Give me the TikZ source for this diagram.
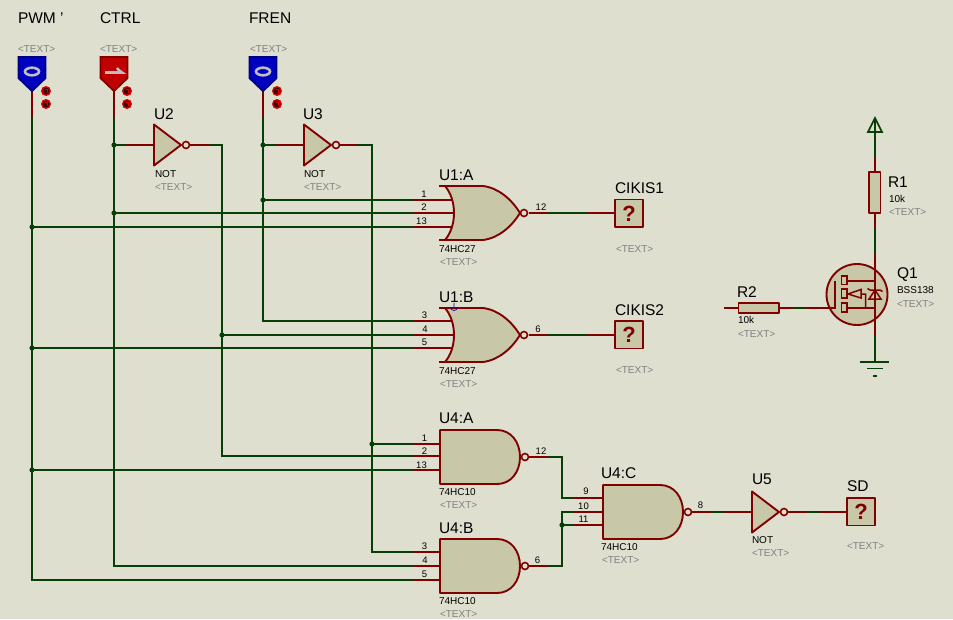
\documentclass[tikz,border=0pt]{standalone}
\usepackage{fontspec}
\setmainfont{Liberation Sans}
\definecolor{bgc}{HTML}{DFDFD0}
\definecolor{bodyc}{HTML}{C8C8A8}
\definecolor{redw}{HTML}{800000}
\definecolor{greenw}{HTML}{064006}
\definecolor{grayt}{HTML}{808080}
\definecolor{pblue}{HTML}{0000C0}
\definecolor{pbluedark}{HTML}{000080}
\definecolor{pred}{HTML}{C00000}
\definecolor{preddark}{HTML}{800000}
\tikzset{
  wire/.style={draw=greenw,line width=1.7pt},
  stub/.style={draw=redw,line width=1.7pt},
  body/.style={draw=redw,fill=bodyc,line width=1.9pt,line join=round},
  dot/.style={circle,fill=greenw,draw=none,minimum size=5.2pt,inner sep=0pt},
  bubble/.style={draw=redw,fill=bgc,line width=1.6pt},
  txt/.style={anchor=base west,inner sep=0pt,outer sep=0pt},
  big/.style={txt,font=\fontsize{15.5}{16}\selectfont,text=black},
  small/.style={txt,font=\fontsize{10}{10}\selectfont,text=black},
  ghost/.style={txt,font=\fontsize{10}{10}\selectfont,text=grayt},
  pin/.style={anchor=base,inner sep=0pt,outer sep=0pt,font=\fontsize{9.5}{10}\selectfont,text=black},
  notgate/.pic={
    \draw[body] (0,-20.5) -- (27,0) -- (0,20.5) -- cycle;
    \draw[bubble] (32,0) circle (3.5);
  },
  norgate/.pic={
    \draw[body] (6,0) -- (44,0) .. controls (60,2) and (73,14) .. (81,27)
      .. controls (73,40) and (60,52) .. (44,54) -- (6,54)
      .. controls (12,47) and (15,37) .. (15,27) .. controls (15,17) and (12,7) .. (6,0) -- cycle;
    \draw[stub] (0,0) -- (6,0) (0,54) -- (6,54);
    \draw[bubble] (85,27) circle (3.5);
  },
  nandgate/.pic={
    \draw[body] (0,0) -- (57,0) .. controls (71,0) and (80,12) .. (80,27)
      .. controls (80,42) and (71,54) .. (57,54) -- (0,54) -- cycle;
    \draw[bubble] (85,27) circle (3.5);
  },
  qbox/.pic={
    \draw[body] (0,0) rectangle (28,27.5);
    \node[inner sep=0pt,font=\bfseries\fontsize{22}{22}\selectfont,text=redw] at (14,14) {?};
  },
  state/.pic={
    \fill[red!85!black] (0,0) circle (5);
    \fill[black!75!red] (0,0) circle (3.4);
    \draw[red!85!black,line width=0.7pt] (-1.5,-1.2) -- (1.5,-1.2) -- (1.5,1.5);
  },
  probezero/.pic={
    \draw[fill=pblue,draw=pbluedark,line width=1.9pt,line join=miter] (-13.5,-34) -- (13.5,-34) -- (13.5,-13) -- (0,0) -- (-13.5,-13) -- cycle;
    \draw[draw=black!25,line width=2.6pt] (0,-19.5) ellipse (7 and 3.8);
  },
  probeone/.pic={
    \draw[fill=pred,draw=preddark,line width=1.9pt,line join=miter] (-13.5,-34) -- (13.5,-34) -- (13.5,-13) -- (0,0) -- (-13.5,-13) -- cycle;
    \draw[draw=black!25,line width=2.6pt] (-9,-18.5) -- (8,-18.5) .. controls (7,-19.5) and (5,-20) .. (3,-23);
  }
}
\begin{document}
\begin{tikzpicture}[x=1pt,y=-1pt]
\useasboundingbox (0,0) rectangle (953,619);
\fill[bgc] (0,0) rectangle (953,619);

% named wire points
\coordinate (pwmP) at (32,91);  \coordinate (ctrlP) at (114,91); \coordinate (frenP) at (263,91);
\coordinate (pwmT) at (32,118); \coordinate (ctrlT) at (114,118); \coordinate (frenT) at (263,118);
\coordinate (pwmB) at (32,580); \coordinate (ctrlB) at (114,566); \coordinate (frenB) at (263,321);
\coordinate (j1) at (32,227); \coordinate (j2) at (32,348); \coordinate (j3) at (32,470);
\coordinate (j4) at (114,145); \coordinate (j5) at (114,213);
\coordinate (j6) at (263,145); \coordinate (j7) at (263,200);
\coordinate (u2a) at (126,145); \coordinate (u2i) at (154,145);
\coordinate (u3a) at (276,145); \coordinate (u3i) at (304,145);
\coordinate (u2o) at (190,145); \coordinate (u2g) at (209,145); \coordinate (u2c) at (222,145); \coordinate (u2d) at (222,456); \coordinate (j8) at (222,335);
\coordinate (u3o) at (339,145); \coordinate (u3g) at (358,145); \coordinate (u3c) at (372,145); \coordinate (u3d) at (372,552); \coordinate (j9) at (372,444);
% gate input stubs start
\foreach \n/\y in {a1/200,a2/213,a3/227,b1/321,b2/335,b3/348,c1/444,c2/456,c3/470,d1/552,d2/566,d3/580}{
  \coordinate (s\n) at (413,\y);
  \coordinate (e\n) at (456,\y);
}

% green wires
\draw[wire] (pwmT) -- (pwmB) -- (sd3);
\draw[wire] (ctrlT) -- (ctrlB) -- (sd2);
\draw[wire] (frenT) -- (frenB) -- (sb1);
\draw[wire] (j1) -- (sa3);
\draw[wire] (j2) -- (sb3);
\draw[wire] (j3) -- (sc3);
\draw[wire] (j4) -- (u2a);
\draw[wire] (j5) -- (sa2);
\draw[wire] (j6) -- (u3a);
\draw[wire] (j7) -- (sa1);
\draw[wire] (u2g) -- (u2c) -- (u2d) -- (sc2);
\draw[wire] (j8) -- (sb2);
\draw[wire] (u3g) -- (u3c) -- (u3d) -- (sd1);
\draw[wire] (j9) -- (sc1);

% right part wire points
\coordinate (ao) at (529,213); \coordinate (ag1) at (548,213); \coordinate (ag2) at (588,213); \coordinate (ab) at (615,213);
\coordinate (bo) at (529,335); \coordinate (bg1) at (548,335); \coordinate (bg2) at (588,335); \coordinate (bb) at (615,335);
\coordinate (co) at (529,457); \coordinate (cg) at (548,457); \coordinate (cc) at (562,457); \coordinate (cd) at (562,498); \coordinate (cs) at (574,498); \coordinate (ce) at (603,498);
\coordinate (do) at (529,566); \coordinate (dg) at (548,566); \coordinate (dc) at (562,566); \coordinate (du) at (562,512); \coordinate (ds) at (574,512); \coordinate (de) at (603,512);
\coordinate (j10) at (562,525); \coordinate (fs) at (574,525); \coordinate (fe) at (603,525);
\coordinate (eo) at (692,512); \coordinate (eg1) at (712,512); \coordinate (eg2) at (724,512); \coordinate (ei) at (752,512);
\coordinate (vo) at (787,512); \coordinate (vg1) at (807,512); \coordinate (vg2) at (819,512); \coordinate (vb) at (847,512);

\draw[wire] (cg) -- (cc) -- (cd) -- (cs);
\draw[wire] (dg) -- (dc) -- (du) -- (ds);
\draw[wire] (j10) -- (fs);
\draw[wire] (ag1) -- (ag2);
\draw[wire] (bg1) -- (bg2);
\draw[wire] (eg1) -- (eg2);
\draw[wire] (vg1) -- (vg2);

% red stubs
\draw[stub] (pwmP) -- (pwmT);
\draw[stub] (ctrlP) -- (ctrlT);
\draw[stub] (frenP) -- (frenT);
\draw[stub] (u2a) -- (u2i);
\draw[stub] (u3a) -- (u3i);
\draw[stub] (u2o) -- (u2g);
\draw[stub] (u3o) -- (u3g);
\foreach \n in {a1,a2,a3,b1,b2,b3,c1,c2,c3,d1,d2,d3}{\draw[stub] (s\n) -- (e\n);}
\draw[stub] (ao) -- (ag1) (ag2) -- (ab);
\draw[stub] (bo) -- (bg1) (bg2) -- (bb);
\draw[stub] (co) -- (cg);
\draw[stub] (do) -- (dg);
\draw[stub] (cs) -- (ce);
\draw[stub] (ds) -- (de);
\draw[stub] (fs) -- (fe);
\draw[stub] (eo) -- (eg1) (eg2) -- (ei);
\draw[stub] (vo) -- (vg1) (vg2) -- (vb);

% junctions
\foreach \j in {j1,j2,j3,j4,j5,j6,j7,j8,j9,j10}{\node[dot] at (\j) {};}

% probes
\pic (pPWM) at (pwmP) {probezero};
\pic (pCTRL) at (ctrlP) {probeone};
\pic (pFREN) at (frenP) {probezero};
\pic at (46,91) {state}; \pic at (46,104) {state};
\pic at (127,91) {state}; \pic at (127,104) {state};
\pic at (277,91) {state}; \pic at (277,104) {state};

% gates
\pic (U2) at (154,145) {notgate};
\pic (U3) at (304,145) {notgate};
\pic (U5) at (752,512) {notgate};
\pic (U1A) at (439,186) {norgate};
\pic (U1B) at (439,308) {norgate};
\pic (U4A) at (440,430) {nandgate};
\pic (U4B) at (440,539) {nandgate};
\pic (U4C) at (603,485) {nandgate};
\pic (C1) at (615,199.5) {qbox};
\pic (C2) at (615,321) {qbox};
\pic (SD) at (847,498) {qbox};

% blue origin mark
\draw[blue!80!black,line width=0.7pt] (450.5,307) arc (180:0:3.5) (454,303) -- (454,307);

% MOSFET part
\coordinate (vcc) at (875,118);
\coordinate (vg) at (875,158); \coordinate (r1t) at (875,172); \coordinate (r1b) at (875,213);
\coordinate (m1) at (875,228); \coordinate (m2) at (875,253); \coordinate (m3) at (875,336); \coordinate (gnd) at (875,362);
\coordinate (r2l) at (724,308); \coordinate (r2a) at (738,308); \coordinate (r2b) at (779,308);
\coordinate (g1) at (793,308); \coordinate (g2) at (805,308); \coordinate (gate) at (835,308);
\draw[wire] (vcc) -- (vg);
\draw[wire] (m1) -- (m2);
\draw[wire] (m3) -- (gnd);
\draw[wire] (g1) -- (g2);
\draw[wire,line join=miter] (875,118) -- (868,132) -- (882,132) -- cycle;
\draw[wire] (860,362) -- (889,362) (867,368.5) -- (883,368.5) (873,376) -- (877,376);
\draw[stub] (vg) -- (r1t) (r1b) -- (m1);
\draw[stub] (r2l) -- (r2a) (r2b) -- (g1);
\draw[body] (869,172) rectangle (880.5,213);
\draw[body] (738.5,303) rectangle (779,313);
\draw[body] (857,294.5) circle (30.5);
\draw[stub] (g2) -- (gate) -- (835,281);
\draw[stub] (m2) -- (m3);
\draw[stub,line width=1.5pt] (847,281) -- (875,281) (847,308) -- (875,308);
\draw[stub,line width=1.5pt] (841.5,276) rectangle (847,284.5) (841.5,289) rectangle (847,298) (841.5,303) rectangle (847,312);
\draw[stub,line width=1.5pt] (848,294) -- (861,289.5) -- (861,298) -- cycle (861,294) -- (865.5,294) -- (865.5,308);
\draw[stub,line width=1.5pt] (869,299) -- (881,299) -- (875,290) -- cycle (867.5,288.5) -- (870,290) -- (880,290) -- (882.5,291.5);

% labels
\node[big] (tPWM) at (18,23) {PWM '};
\node[big] (tCTRL) at (100,23) {CTRL};
\node[big] (tFREN) at (249,23) {FREN};
\node[ghost] (g1t) at (18,52) {<TEXT>};
\node[ghost] (g2t) at (100,52) {<TEXT>};
\node[ghost] (g3t) at (250,52) {<TEXT>};
\node[big] (tU2) at (154,119) {U2};
\node[small] (nU2) at (155,177) {NOT};
\node[ghost] (gU2) at (155,190) {<TEXT>};
\node[big] (tU3) at (303,119) {U3};
\node[small] (nU3) at (304,177) {NOT};
\node[ghost] (gU3) at (304,190) {<TEXT>};

\node[big] (tU1A) at (439,180) {U1:A};
\node[pin] at (424,197) {1};
\node[pin] at (424,210) {2};
\node[pin] at (421.5,224) {13};
\node[pin] at (541,210) {12};
\node[small] at (439,252) {74HC27};
\node[ghost] at (440,265) {<TEXT>};
\node[big] at (615,193) {CIKIS1};
\node[ghost] at (616,252) {<TEXT>};

\node[big] (tU1B) at (439,302) {U1:B};
\node[pin] at (424.5,318) {3};
\node[pin] at (425,332) {4};
\node[pin] at (424.5,345) {5};
\node[pin] at (538,332) {6};
\node[small] at (439,374) {74HC27};
\node[ghost] at (440,387) {<TEXT>};
\node[big] at (615,315) {CIKIS2};
\node[ghost] at (616,373) {<TEXT>};

\node[big] (tU4A) at (439,423) {U4:A};
\node[pin] at (424.5,441) {1};
\node[pin] at (424.5,454) {2};
\node[pin] at (421.5,468) {13};
\node[pin] at (541,454) {12};
\node[small] at (439,495) {74HC10};
\node[ghost] at (440,508) {<TEXT>};

\node[big] (tU4B) at (439,533) {U4:B};
\node[pin] at (424.5,549) {3};
\node[pin] at (425,563) {4};
\node[pin] at (424.5,577) {5};
\node[pin] at (537.5,563) {6};
\node[small] at (439,604) {74HC10};
\node[ghost] at (440,617) {<TEXT>};

\node[big] (tU4C) at (601,478) {U4:C};
\node[pin] at (586,494) {9};
\node[pin] at (583.5,509) {10};
\node[pin] at (583.5,522) {11};
\node[pin] at (700.5,508) {8};
\node[small] at (601,550) {74HC10};
\node[ghost] at (602,563) {<TEXT>};

\node[big] at (752,484) {U5};
\node[small] at (752,543) {NOT};
\node[ghost] at (752,556) {<TEXT>};
\node[big] at (847,491) {SD};
\node[ghost] at (847,549) {<TEXT>};

\node[big] at (888,187) {R1};
\node[small] at (889,202) {10k};
\node[ghost] at (889,215) {<TEXT>};
\node[big] at (897,278) {Q1};
\node[small] at (897,293) {BSS138};
\node[ghost] at (897,307) {<TEXT>};
\node[big] at (737,297) {R2};
\node[small] at (738,323) {10k};
\node[ghost] at (738,337) {<TEXT>};
\end{tikzpicture}
\end{document}
